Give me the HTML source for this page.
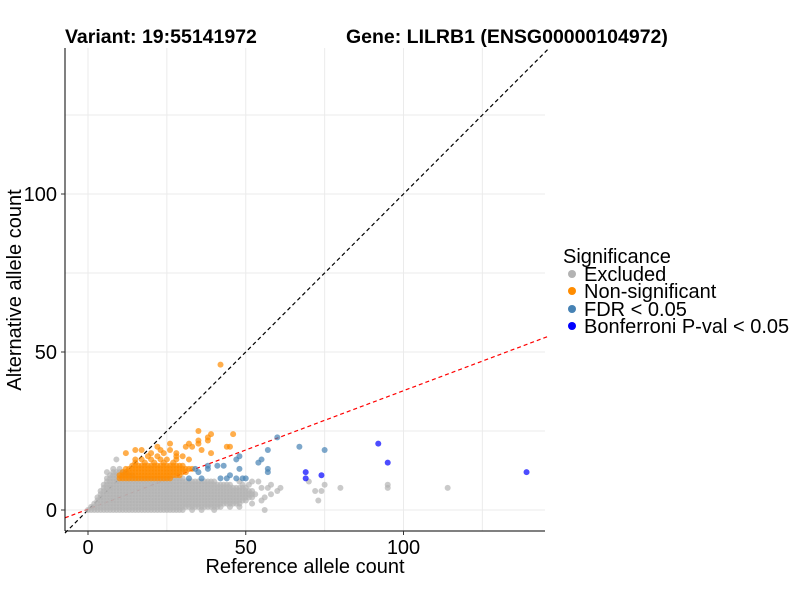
<!DOCTYPE html>
<html><head><meta charset="utf-8"><style>
body{margin:0;background:#fff;}
svg text{font-family:"Liberation Sans",sans-serif;}
</style></head><body>
<svg id="chart" width="800" height="600" xmlns="http://www.w3.org/2000/svg">
<rect width="800" height="600" fill="#fff"/>
<g id="grid"></g>
<g id="lines"></g>
<g id="points"></g>
<line x1="65" y1="48" x2="65" y2="531" stroke="#000" stroke-width="1"/>
<line x1="65" y1="531" x2="545" y2="531" stroke="#000" stroke-width="1"/>
<g id="ticks"></g>
<text x="65" y="43" font-size="19.5" font-weight="bold">Variant: 19:55141972</text>
<text x="346" y="43" font-size="19.5" font-weight="bold">Gene: LILRB1 (ENSG00000104972)</text>
<text x="305" y="573" font-size="20" text-anchor="middle">Reference allele count</text>
<text transform="translate(21,290) rotate(-90)" font-size="20" text-anchor="middle">Alternative allele count</text>
<g>
<text x="563" y="263" font-size="20">Significance</text>
<g><circle cx="572" cy="274" r="4" fill="#b3b3b3"/><text x="584" y="281" font-size="20">Excluded</text></g>
<g><circle cx="572" cy="291" r="4" fill="#ff8c00"/><text x="584" y="298" font-size="20">Non-significant</text></g>
<g><circle cx="572" cy="309" r="4" fill="#4682b4"/><text x="584" y="316" font-size="20">FDR &lt; 0.05</text></g>
<g><circle cx="572" cy="326" r="4" fill="#0000ff"/><text x="584" y="333" font-size="20">Bonferroni P-val &lt; 0.05</text></g>
</g>
</svg>
<script>
// gray cloud as runs: [alt, refStart, refEnd]
const excludedRuns = [[0,0,30],[1,1,42],[2,2,48],[3,3,50],[4,3,52],[5,4,53],[6,4,52],[7,5,50],[8,5,45],[9,6,40],[10,6,30],[11,7,14],[12,8,12]];
const excludedExtra = [[33,0],[36,0],[40,0],[56,0],[45,1],[48,1],[52,2],[55,3],[73,3],[56,4],[58,5],[60,6],[72,6],[74,6],[55,7],[57,7],[61,7],[80,7],[95,7],[114,7],[49,8],[51,8],[58,8],[75,8],[95,8],[48,9],[52,9],[54,9],[70,9],[10,13],[8,13],[9,16],[6,12]];
const orangeRuns = [[10,10,26],[11,10,29],[12,11,31],[13,12,33],[14,14,30]];
const orangeExtra = [[15,15],[18,15],[21,15],[24,15],[27,15],[15,16],[17,16],[20,16],[23,16],[25,16],[28,16],[32,16],[19,17],[22,17],[28,17],[30,17],[12,18],[20,18],[24,18],[28,18],[39,18],[15,19],[17,19],[23,19],[26,19],[36,19],[22,20],[31,20],[33,20],[44,20],[45,20],[32,21],[35,21],[26,21],[35,22],[38,22],[38,23],[39,24],[46,24],[35,25],[42,46]];
const fdrPoints = [[60,23],[67,20],[57,19],[75,19],[55,16],[54,15],[47,16],[48,17],[38,14],[41,14],[43,14],[48,13],[42,10],[44,10],[47,10],[49,10],[50,10],[34,13],[35,12],[36,10],[32,10],[57,13],[57,12],[38,13],[45,11]];
const bonfPoints = [[69,12],[69,10],[74,11],[92,21],[95,15],[139,12]];
const xTicks = [0,50,100];
const yTicks = [0,50,100];
const gridMinor = [25,75,125];

const NS="http://www.w3.org/2000/svg";
const X = v => 88 + v*3.155;
const Y = v => 510 - v*3.16;
function mk(tag, attrs, parent){const e=document.createElementNS(NS,tag);for(const k in attrs)e.setAttribute(k,attrs[k]);parent.appendChild(e);return e;}
const grid=document.getElementById('grid');
xTicks.concat(gridMinor).forEach(v=>{
  const l=mk('line',{x1:X(v),x2:X(v),y1:48,y2:531,stroke:'#ebebeb','stroke-width':1},grid);
  
  
});
yTicks.concat(gridMinor).forEach(v=>{
  const l=mk('line',{x1:65,x2:545,y1:Y(v),y2:Y(v),stroke:'#ebebeb','stroke-width':1},grid);
  
  
});
const ticks=document.getElementById('ticks');
xTicks.forEach(v=>{
  mk('line',{x1:X(v),x2:X(v),y1:531,y2:535,stroke:'#333'},ticks);
  const t=mk('text',{x:X(v),y:554,'font-size':20,'text-anchor':'middle'},ticks);t.textContent=v;
  
  
});
yTicks.forEach(v=>{
  mk('line',{x1:61,x2:65,y1:Y(v),y2:Y(v),stroke:'#333'},ticks);
  const t=mk('text',{x:57,y:Y(v)+7,'font-size':20,'text-anchor':'end'},ticks);t.textContent=v;
  
  
});
const lines=document.getElementById('lines');
const l1=mk('line',{x1:X(-7.3),y1:Y(-7.3),x2:X(146),y2:Y(146),stroke:'#000','stroke-width':1.2,'stroke-dasharray':'4,3'},lines);


const l2=mk('line',{x1:X(-7.3),y1:Y(-7.3*0.375+0.25),x2:X(145.5),y2:Y(145.5*0.375+0.25),stroke:'#ff0000','stroke-width':1.2,'stroke-dasharray':'4,3'},lines);


const pts=document.getElementById('points');
function dot(x,y,c,name){
  const d=mk('circle',{cx:X(x),cy:Y(y),r:3,fill:c,'fill-opacity':0.7},pts);
  
  
}
excludedRuns.forEach(r=>{for(let x=r[1];x<=r[2];x++)dot(x,r[0],'#b3b3b3','point-excluded');});
excludedExtra.forEach(p=>dot(p[0],p[1],'#b3b3b3','point-excluded'));
orangeRuns.forEach(r=>{for(let x=r[1];x<=r[2];x++)dot(x,r[0],'#ff8c00','point-nonsignificant');});
orangeExtra.forEach(p=>dot(p[0],p[1],'#ff8c00','point-nonsignificant'));
fdrPoints.forEach(p=>dot(p[0],p[1],'#4682b4','point-fdr'));
bonfPoints.forEach(p=>dot(p[0],p[1],'#0000ff','point-bonferroni'));
</script>
</body></html>
